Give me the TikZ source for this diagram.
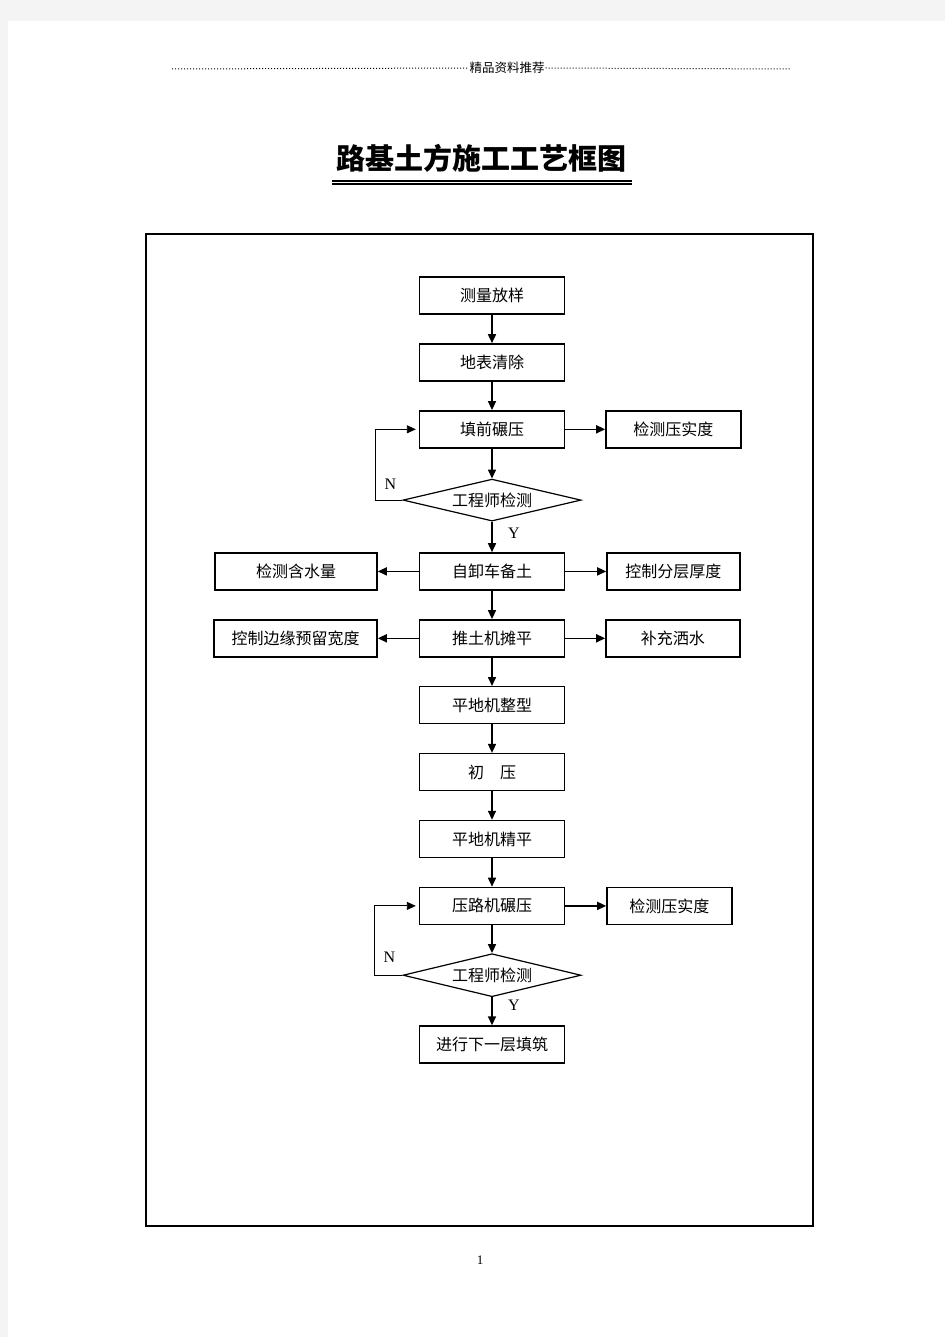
\documentclass[tikz,border=0pt]{standalone}
\usepackage{fontspec}
\setmainfont{Noto Sans CJK SC}
\newfontfamily\latinserif{Liberation Serif}
\usetikzlibrary{arrows.meta,positioning,shapes.geometric}
\definecolor{pagegray}{HTML}{F4F4F4}

\tikzset{
  stepbox/.style={draw, line width=1.4pt, minimum width=145pt, minimum height=37pt,
    inner sep=0pt, font=\fontsize{16}{16}\selectfont},
  check/.style={draw, diamond, aspect=4.2, line width=1.2pt, minimum width=178pt,
    minimum height=42pt, inner sep=0pt, font=\fontsize{16}{16}\selectfont},
  flow/.style={->, line width=1.6pt},
  loopback/.style={->, line width=0.9pt},
  yn/.style={font=\latinserif\fontsize{16}{16}\selectfont},
  dotlead/.style={line width=1pt, dash pattern=on 1pt off 2pt}
}

\begin{document}
\begin{tikzpicture}[x=1pt,y=-1pt,>={Triangle[length=9pt,width=8pt]},node distance=28.5pt]

  % page
  \fill[pagegray] (0,0) rectangle (945,1337);
  \fill[white] (8,21) rectangle (945,1337);
  \useasboundingbox (0,0) rectangle (945,1337);

  % header and title
  \node[font=\fontsize{12.5}{12.5}\selectfont, inner sep=1pt] (tag) at (507,68) {精品资料推荐};
  \draw[dotlead] (172,69) -- (tag.west);
  \draw[dotlead] (tag.east) -- (790,69);
  \node[font=\bfseries\fontsize{29}{29}\selectfont] (title) at (481,158) {路基土方施工工艺框图};
  \draw[line width=1.2pt] (332,181) -- (632,181);
  \draw[line width=2pt] (332,184.5) -- (632,184.5);

  \draw[line width=2pt] (146,234) rectangle (813,1226);

  % main column
  \node[stepbox] (survey) at (492,295.5) {测量放样};
  \node[stepbox] (clear) [below=of survey] {地表清除};
  \node[stepbox] (precomp) [below=of clear] {填前碾压};
  \node[check] (check1) [below=30pt of precomp] {工程师检测};
  \node[stepbox] (dump) [below=30.5pt of check1] {自卸车备土};
  \node[stepbox] (doze) [below=of dump] {推土机摊平};
  \node[stepbox] (grade) [below=of doze] {平地机整型};
  \node[stepbox] (initroll) [below=of grade] {初\hspace{1em}压};
  \node[stepbox] (finegrade) [below=of initroll] {平地机精平};
  \node[stepbox] (roll) [below=of finegrade] {压路机碾压};
  \node[check, minimum height=43pt] (check2) [below=28pt of roll] {工程师检测};
  \node[stepbox] (nextlayer) [below=28pt of check2] {进行下一层填筑};

  % side boxes
  \node[stepbox, minimum width=135pt] (density1) [right=40pt of precomp] {检测压实度};
  \node[stepbox, minimum width=162pt] (moisture) [left=41pt of dump] {检测含水量};
  \node[stepbox, minimum width=133pt] (thickness) [right=41pt of dump] {控制分层厚度};
  \node[stepbox, minimum width=163pt] (edgewidth) [left=41pt of doze] {控制边缘预留宽度};
  \node[stepbox, minimum width=134pt] (water) [right=40pt of doze] {补充洒水};
  \node[stepbox, minimum width=125pt] (density2) [right=41pt of roll] {检测压实度};

  \path[flow] (survey) edge (clear)
              (clear) edge (precomp)
              (precomp) edge (check1)
                        edge (density1)
              (check1) edge (dump)
              (dump) edge (doze)
                     edge (moisture)
                     edge (thickness)
              (doze) edge (grade)
                     edge (edgewidth)
                     edge (water)
              (grade) edge (initroll)
              (initroll) edge (finegrade)
              (finegrade) edge (roll)
              (roll) edge (check2)
                     edge (density2)
              (check2) edge (nextlayer);

  % N / Y loops
  \draw[loopback, shorten >=3pt] (check1.west) -- ++(-27pt,0) |- (precomp.west);
  \draw[loopback, shorten >=3pt] (check2.west) -- ++(-28pt,0) |- (roll.west);
  \node[yn] (n1) at ([xshift=-12pt,yshift=16pt]check1.west) {N};
  \node[yn] (y1) at ([xshift=22pt,yshift=-12pt]check1.south) {Y};
  \node[yn] (n2) at ([xshift=-13pt,yshift=18pt]check2.west) {N};
  \node[yn] (y2) at ([xshift=22pt,yshift=-8pt]check2.south) {Y};

  \node[font=\latinserif\fontsize{13}{13}\selectfont] (pageno) at (480,1260) {1};

\end{tikzpicture}
\end{document}
